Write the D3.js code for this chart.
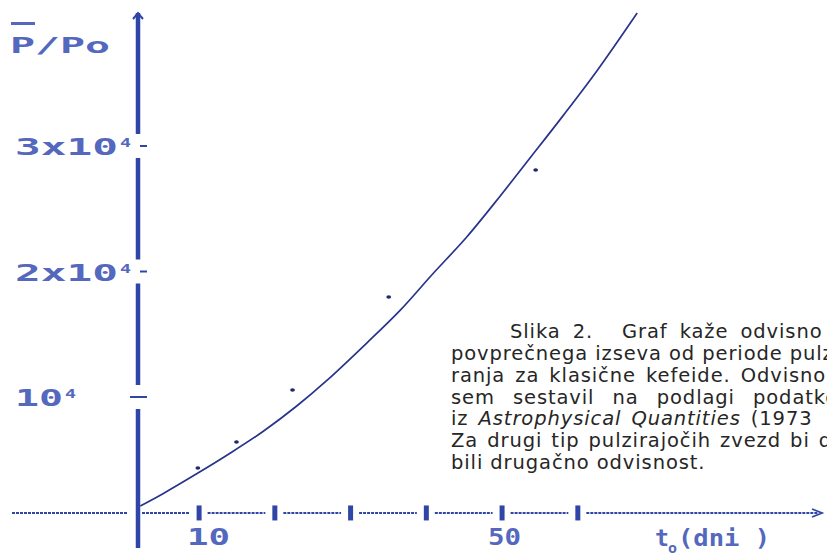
<!DOCTYPE html>
<html><head><meta charset="utf-8">
<script src="https://cdn.jsdelivr.net/npm/d3@7"></script>
<style>html,body{margin:0;padding:0;background:#fff;overflow:hidden}</style>
</head><body>
<svg id="chart" width="827" height="555"></svg>
<script>
// ---- data ----
const periodDays     = [2.3, 5.3, 9.8, 14.1, 18.5, 23.0, 26.9, 32.2, 36.6, 40.9, 45.4, 49.8, 53.7, 58.1, 62.6, 67.9];
const meanLuminosity = [1320, 2300, 3900, 5500, 7250, 9300, 11300, 14300, 16900, 19800, 22750, 26000, 29000, 32400, 36000, 40600];
const pointDays       = [9.9, 15.0, 22.4, 35.1, 54.5];
const pointLuminosity = [4340, 6410, 10560, 17970, 28090];
const xTickValues = [10, 20, 30, 40, 50, 60];
const xTickLabels = ["10", "", "", "", "50", ""];
const yTickValues = [10000, 20000, 30000];
const yTickLabels = ["10", "2x10", "3x10"];
const yTickExponent = "4";
const yTitle = "P/Po";
const xTitleMain = "t", xTitleSub = "o", xTitleRest = "(dni )";
const captionLines = [
  [{t: "Slika 2."}, {t: "Graf kaže odvisno"}],
  [{t: "povprečnega izseva od periode pulz"}],
  [{t: "ranja za klasične kefeide. Odvisno"}],
  [{t: "sem sestavil na podlagi podatko"}],
  [{t: "iz "}, {t: "Astrophysical Quantities", it: true}, {t: " (1973"}],
  [{t: "Za drugi tip pulzirajočih zvezd bi d"}],
  [{t: "bili drugačno odvisnost."}]
];

// ---- layout ----
const W = 827, H = 555;
const axisColor = "#2f46a6", labelColor = "#5468bd", curveColor = "#27348a";
const svg = d3.select("#chart");
svg.append("rect").attr("width", W).attr("height", H).attr("fill", "#fff");

const x = d3.scaleLinear().domain([2, 92.5]).range([138, 823.5]);
const y = d3.scaleLinear().domain([0, 40000]).range([522.5, 20.5]);
const xAxisLevel = 760;          // value where the horizontal axis is drawn
const x0 = x(2), y0 = y(xAxisLevel);

// ---- vertical axis with gaps at ticks ----
const yTop = 13, yBottom = 548, gap = 12;
const yBreaks = [yTop];
yTickValues.slice().sort((a, b) => b - a).forEach(v => { yBreaks.push(y(v) - gap, y(v) + gap); });
yBreaks.push(yBottom);
for (let i = 0; i < yBreaks.length; i += 2) {
  svg.append("line").attr("x1", x0).attr("x2", x0).attr("y1", yBreaks[i]).attr("y2", yBreaks[i + 1])
    .attr("stroke", axisColor).attr("stroke-width", 4.5);
}
svg.append("path").attr("d", `M${x0 - 5},${yTop + 6} L${x0},${yTop} L${x0 + 5},${yTop + 6}`)
  .attr("fill", "none").attr("stroke", axisColor).attr("stroke-width", 2);
yTickValues.forEach((v, i) => {
  const xa = i === 0 ? x0 - 8 : x0 + 2;
  svg.append("line").attr("x1", xa).attr("x2", x0 + 9).attr("y1", y(v)).attr("y2", y(v))
    .attr("stroke", axisColor).attr("stroke-width", 2);
});

// ---- horizontal axis with gaps at ticks ----
const xBreaks = [12, x0 - 10, x0 + 4];
xTickValues.forEach(v => { xBreaks.push(x(v) - 9, x(v) + 9); });
xBreaks.push(818);
for (let i = 0; i < xBreaks.length; i += 2) {
  svg.append("line").attr("x1", xBreaks[i]).attr("x2", xBreaks[i + 1]).attr("y1", y0).attr("y2", y0)
    .attr("stroke", axisColor).attr("stroke-width", 2).attr("stroke-dasharray", "3,1");
}
svg.append("path").attr("d", `M812,${y0 - 4} L822,${y0} L812,${y0 + 4}`)
  .attr("fill", "none").attr("stroke", axisColor).attr("stroke-width", 1.8);

const xAxis = d3.axisBottom(x).tickValues(xTickValues).tickSize(15).tickFormat("");
const gx = svg.append("g").attr("transform", `translate(0,${y0 - 7.5})`).call(xAxis);
gx.select(".domain").remove();
gx.selectAll(".tick line").attr("stroke", axisColor).attr("stroke-width", 5);

// ---- labels ----
const mono = "'DejaVu Sans Mono', 'Liberation Mono', monospace";
function lbl(txt, xx, yy, len, size) {
  return svg.append("text").attr("x", xx).attr("y", yy).text(txt)
    .attr("font-family", mono).attr("font-weight", "bold").attr("font-size", size)
    .attr("fill", labelColor).attr("textLength", len).attr("lengthAdjust", "spacingAndGlyphs");
}
lbl(yTitle, 10, 53, 100, 22);
svg.append("line").attr("x1", 11).attr("x2", 35).attr("y1", 23.5).attr("y2", 23.5)
  .attr("stroke", labelColor).attr("stroke-width", 3);

const yLabelLen = [48, 103, 103];
yTickValues.forEach((v, i) => {
  const base = y(v) + 9;
  lbl(yTickLabels[i], 15, base, yLabelLen[i], 23);
  lbl(yTickExponent, 15 + yLabelLen[i] + 2, base - 8, 11, 13);
});

const xLabelPos = [{x: 187, len: 43}, null, null, null, {x: 488, len: 33}, null];
xTickValues.forEach((v, i) => {
  if (xTickLabels[i]) lbl(xTickLabels[i], xLabelPos[i].x, 545, xLabelPos[i].len, 23);
});
lbl(xTitleMain, 655, 546, 14, 23);
lbl(xTitleSub, 668, 553, 9, 14);
lbl(xTitleRest, 678, 546, 92, 23);

// ---- curve ----
const curveData = periodDays.map((d, i) => [d, meanLuminosity[i]]);
svg.append("path").datum(curveData)
  .attr("d", d3.line().x(d => x(d[0])).y(d => y(d[1])).curve(d3.curveCatmullRom))
  .attr("fill", "none").attr("stroke", curveColor).attr("stroke-width", 1.7);

// ---- scattered points ----
svg.selectAll(".pt").data(pointDays.map((d, i) => [d, pointLuminosity[i]])).enter()
  .append("ellipse").attr("class", "pt")
  .attr("cx", d => x(d[0])).attr("cy", d => y(d[1]))
  .attr("rx", 2.4).attr("ry", 1.8).attr("fill", "#1f2a6e");

// ---- caption ----
const capX = [[510, 622], [451], [451], [451], [451], [451], [451]];
const capY = [338, 360, 382, 403.5, 425, 447, 469];
const capWS = [5, 0, 3, 11, 3, 2, 0];
const cap = svg.append("g").attr("font-family", "'DejaVu Sans', Verdana, sans-serif")
  .attr("font-size", 19.5).attr("fill", "#262626").attr("letter-spacing", 0.9);
captionLines.forEach((segs, li) => {
  if (li === 4) {
    const t = cap.append("text").attr("x", capX[li][0]).attr("y", capY[li]).attr("word-spacing", capWS[li])
      .style("white-space", "pre");
    segs.forEach(s => t.append("tspan").text(s.t).attr("font-style", s.it ? "italic" : null));
  } else {
    segs.forEach((s, si) => {
      cap.append("text").attr("x", capX[li][si]).attr("y", capY[li]).attr("word-spacing", capWS[li]).text(s.t);
    });
  }
});
</script>
</body></html>
